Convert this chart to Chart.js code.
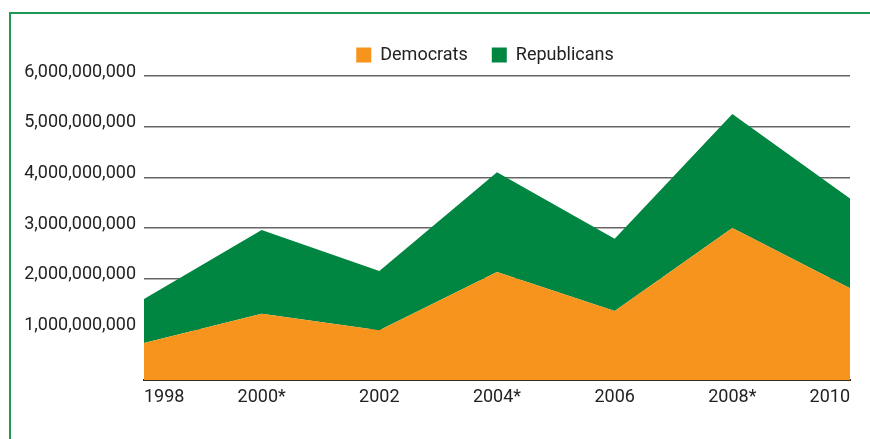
<!DOCTYPE html>
<html>
<head>
<meta charset="utf-8">
<script src="https://cdn.jsdelivr.net/npm/chart.js@4/dist/chart.umd.min.js"></script>
<style>
  html, body { margin: 0; padding: 0; background: #fff; }
  #frame {
    position: absolute; left: 9px; top: 12px;
    width: 900px; height: 460px;
    border-left: 2px solid #1f9a55; border-top: 2px solid #1f9a55;
  }
  #wrap { position: absolute; left: 0; top: 0; width: 870px; height: 439px; }
</style>
</head>
<body>
<div id="frame"></div>
<div id="wrap"><canvas id="chart" width="870" height="439"></canvas></div>
<script>
// election cycles (* = presidential year)
const years = ["1998", "2000*", "2002", "2004*", "2006", "2008*", "2010"];
const democrats = [0.73e9, 1.31e9, 0.98e9, 2.13e9, 1.36e9, 3.0e9, 1.81e9];
const republicans = [0.87e9, 1.65e9, 1.17e9, 1.97e9, 1.43e9, 2.25e9, 1.77e9];
const yTicks = [0, 1e9, 2e9, 3e9, 4e9, 5e9, 6e9];

const FONT = "Roboto, 'Liberation Sans', sans-serif";
const ORANGE = "#f7941d";
const GREEN = "#008641";

Chart.defaults.font.family = FONT;
Chart.defaults.color = "#222";

// nudge the legend so it sits over the plot, like the original
const legendShift = {
  id: "legendShift",
  afterLayout(chart) {
    const lg = chart.legend;
    if (!lg) return;
    lg.left += 60;
    lg.right += 60;
    lg.top -= 2;
    lg.bottom -= 2;
  },
};

const ctx = document.getElementById("chart");
new Chart(ctx, {
  type: "line",
  data: {
    labels: years,
    datasets: [
      {
        label: "Democrats",
        data: democrats,
        backgroundColor: ORANGE,
        borderColor: ORANGE,
        borderWidth: 0,
        pointRadius: 0,
        fill: "origin",
        tension: 0,
      },
      {
        label: "Republicans",
        data: republicans,
        backgroundColor: GREEN,
        borderColor: GREEN,
        borderWidth: 0,
        pointRadius: 0,
        fill: "-1",
        tension: 0,
      },
    ],
  },
  plugins: [legendShift],
  options: {
    responsive: false,
    animation: false,
    layout: { padding: { top: 24, right: 20, bottom: 0, left: 0 } },
    plugins: {
      tooltip: { enabled: false },
      legend: {
        display: true,
        position: "top",
        labels: {
          boxWidth: 15,
          boxHeight: 15,
          padding: 24,
          font: { size: 18 },
          color: "#222",
        },
      },
    },
    scales: {
      x: {
        type: "category",
        offset: false,
        grid: { display: false, drawTicks: false },
        border: { display: true, color: "#3b2a1c", width: 2 },
        ticks: { align: "inner", padding: 7, font: { size: 18 }, color: "#222", maxRotation: 0, autoSkip: false },
        afterFit: (scale) => { scale.height = 59; },
      },
      y: {
        stacked: true,
        min: 0,
        max: 6e9,
        afterBuildTicks: (scale) => { scale.ticks = yTicks.map((v) => ({ value: v })); },
        grid: {
          drawTicks: false,
          color: (c) => (c.tick && c.tick.value === 0 ? "rgba(0,0,0,0)" : "#666"),
          lineWidth: 1.5,
        },
        border: { display: false },
        ticks: {
          padding: 8,
          labelOffset: -4,
          font: { size: 18 },
          color: "#222",
          callback: (v) => (v === 0 ? "" : v.toLocaleString("en-US")),
        },
        afterFit: (scale) => { scale.width = 144; },
      },
    },
  },
});
</script>
</body>
</html>
